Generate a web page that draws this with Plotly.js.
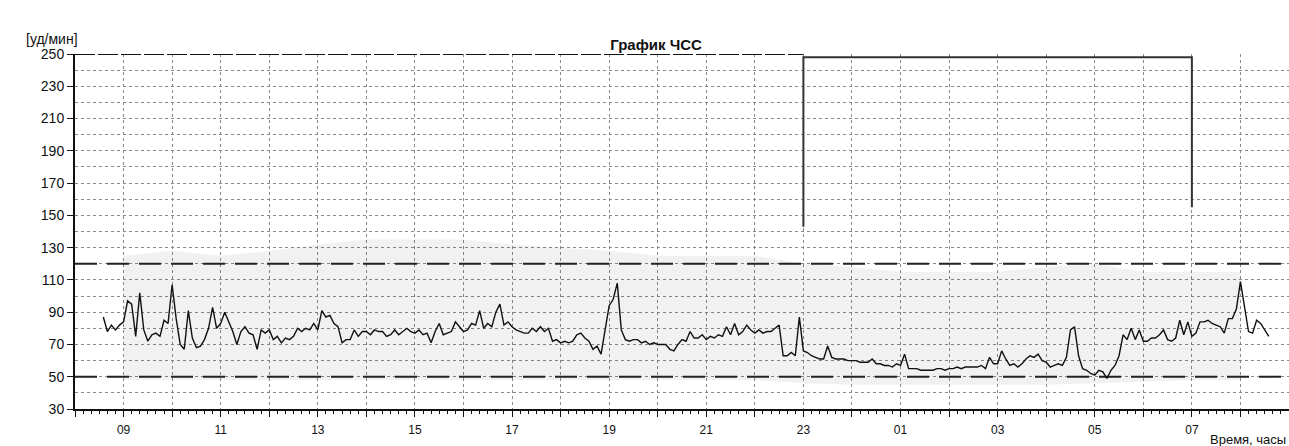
<!DOCTYPE html>
<html>
<head>
<meta charset="utf-8">
<script src="https://cdn.plot.ly/plotly-3.0.1.min.js"></script>
<style>html,body{margin:0;padding:0;background:#fff;}#chart{width:1289px;height:446px;}</style>
</head>
<body>
<div id="chart"></div>
<script>
// ---- Data ----
const seriesStartHour = 8 + 35/60;   // 08:35
const sampleStepMin = 5;             // one value every 5 minutes

// 08:35 - 14:35
const hrMorning = [87,78,82,79,82,84,97,95,75,102,79,72,76,77,75,85,83,107,86,70,
  67,91,74,68,69,73,80,93,80,83,90,84,78,70,78,81,77,76,67,79,
  77,79,73,75,71,74,73,75,80,78,80,79,83,79,91,87,88,83,81,71,
  73,73,79,75,78,78,76,79,78,78,75,76,79];
// 14:40 - 20:40
const hrAfternoon = [76,78,80,78,77,79,76,77,71,78,83,76,77,78,84,81,78,79,83,82,
  91,80,83,81,90,95,82,84,81,79,78,77,77,80,78,81,78,80,72,73,
  71,72,71,72,76,77,74,72,67,69,64,79,94,98,108,79,73,72,73,73,
  71,72,70,71,70,70,70,67,66,70,73,72,78];
// 20:45 - 02:45
const hrNight = [74,74,76,73,75,74,76,75,81,76,83,76,78,82,79,77,79,77,78,78,
  80,82,63,63,65,63,87,66,65,63,62,61,61,69,62,61,61,61,60,60,
  60,59,59,59,61,58,58,57,57,56,58,57,64,55,55,55,54,54,54,54,
  55,55,54,55,55,56,55,56,56,56,56,57,55];
// 02:50 - 08:35
const hrEarly = [62,58,58,66,61,57,58,56,58,61,63,62,64,60,59,56,57,58,57,62,
  79,81,63,55,54,52,51,54,53,49,54,57,63,76,73,80,73,79,72,72,
  74,74,76,79,73,72,74,85,76,84,75,77,84,84,85,83,82,81,77,86,
  86,92,109,94,78,77,85,83,79,75];

// faint min/max envelope (hourly)
const envelopeStartHour = 9;
const envelopeMax = [125,128,125,128,132,135,135,135,132,130,128,125,125,125,120,118,115,115,115,118,120,115,115,115];
const envelopeMin = [48,48,48,48,48,48,48,48,48,48,48,48,48,48,46,45,45,45,45,45,46,47,48,48];

const limitUpper = 120;
const limitLower = 50;

// night period marker (23:00 -> 07:00)
const nightX = [23, 23, 31, 31];
const nightY = [143, 248, 248, 155];

const xLabelHours = [9,11,13,15,17,19,21,23,25,27,29,31];
const xLabels = ['09','11','13','15','17','19','21','23','01','03','05','07'];
const yTicks = [30,50,70,90,110,130,150,170,190,210,230,250];

// ---- Build ----
const hr = hrMorning.concat(hrAfternoon, hrNight, hrEarly);
const hrTime = hr.map((_, i) => seriesStartHour + i * sampleStepMin / 60);
const envTime = envelopeMax.map((_, i) => envelopeStartHour + i);

const allHours = [];
const allHourText = [];
for (let h = 8; h <= 33; h++) {
  allHours.push(h);
  const k = xLabelHours.indexOf(h);
  allHourText.push(k >= 0 ? xLabels[k] : '');
}

const FONT = '"Liberation Sans", Arial, sans-serif';

const traces = [
  {x: envTime, y: envelopeMin, mode: 'lines', line: {width: 0}, hoverinfo: 'skip'},
  {x: envTime, y: envelopeMax, mode: 'lines', line: {width: 0}, fill: 'tonexty',
   fillcolor: 'rgba(0,0,0,0.055)', hoverinfo: 'skip'},
  {x: [8, 33], y: [limitUpper, limitUpper], mode: 'lines',
   line: {color: '#222', width: 2, dash: '22px,10px'}},
  {x: [8, 33], y: [limitLower, limitLower], mode: 'lines',
   line: {color: '#222', width: 2, dash: '22px,10px'}},
  {x: [8, 23], y: [250, 250], mode: 'lines', line: {color: '#111', width: 2, dash: '20px,3px'}},
  {x: nightX, y: nightY, mode: 'lines', line: {color: '#333', width: 2}},
  {x: hrTime, y: hr, mode: 'lines', line: {color: '#111', width: 1.4}}
];

const layout = {
  width: 1289, height: 446,
  margin: {l: 75, r: 0, t: 54, b: 37},
  paper_bgcolor: '#fff', plot_bgcolor: '#fff',
  showlegend: false,
  font: {family: FONT, color: '#111'},
  title: {text: '<b>График ЧСС</b>', font: {family: FONT, size: 15, color: '#111'},
          xref: 'container', x: 0.509, xanchor: 'center',
          yref: 'container', y: 1 - 45/446, yanchor: 'middle'},
  xaxis: {
    range: [8, 33], tickmode: 'array', tickvals: allHours, ticktext: allHourText,
    ticks: 'outside', ticklen: 6, tickcolor: '#111', tickwidth: 1,
    ticklabelstandoff: 3,
    tickfont: {family: FONT, size: 12, color: '#111'},
    showline: true, linecolor: '#111', linewidth: 1.5,
    showgrid: true, gridcolor: '#8a8a8a', griddash: 'dot', gridwidth: 1,
    zeroline: false,
    minor: {tickmode: 'linear', tick0: 8, dtick: 1/6, ticks: 'outside', ticklen: 3,
            tickcolor: '#111', tickwidth: 1, showgrid: false}
  },
  yaxis: {
    range: [30, 250], tickmode: 'array', tickvals: yTicks,
    ticks: 'outside', ticklen: 6, tickcolor: '#111', tickwidth: 1,
    tickfont: {family: FONT, size: 14, color: '#111'},
    showline: true, linecolor: '#111', linewidth: 2,
    showgrid: true, gridcolor: '#8a8a8a', griddash: 'dot', gridwidth: 1,
    zeroline: false,
    minor: {tickmode: 'linear', tick0: 30, dtick: 10, ticks: '', showgrid: true,
            gridcolor: '#8a8a8a', griddash: 'dot', gridwidth: 1}
  },
  annotations: [
    {text: '[уд/мин]', xref: 'paper', yref: 'paper', x: (52 - 75) / 1214, y: (409 - 39) / 355,
     xanchor: 'center', yanchor: 'middle', showarrow: false,
     font: {family: FONT, size: 14, color: '#111'}},
    {text: 'Время, часы', xref: 'paper', yref: 'paper', x: (1208 - 75) / 1214, y: (409 - 440) / 355,
     xanchor: 'left', yanchor: 'middle', showarrow: false,
     font: {family: FONT, size: 13, color: '#111'}}
  ]
};

Plotly.newPlot('chart', traces, layout, {staticPlot: true, displayModeBar: false});
</script>
</body>
</html>
